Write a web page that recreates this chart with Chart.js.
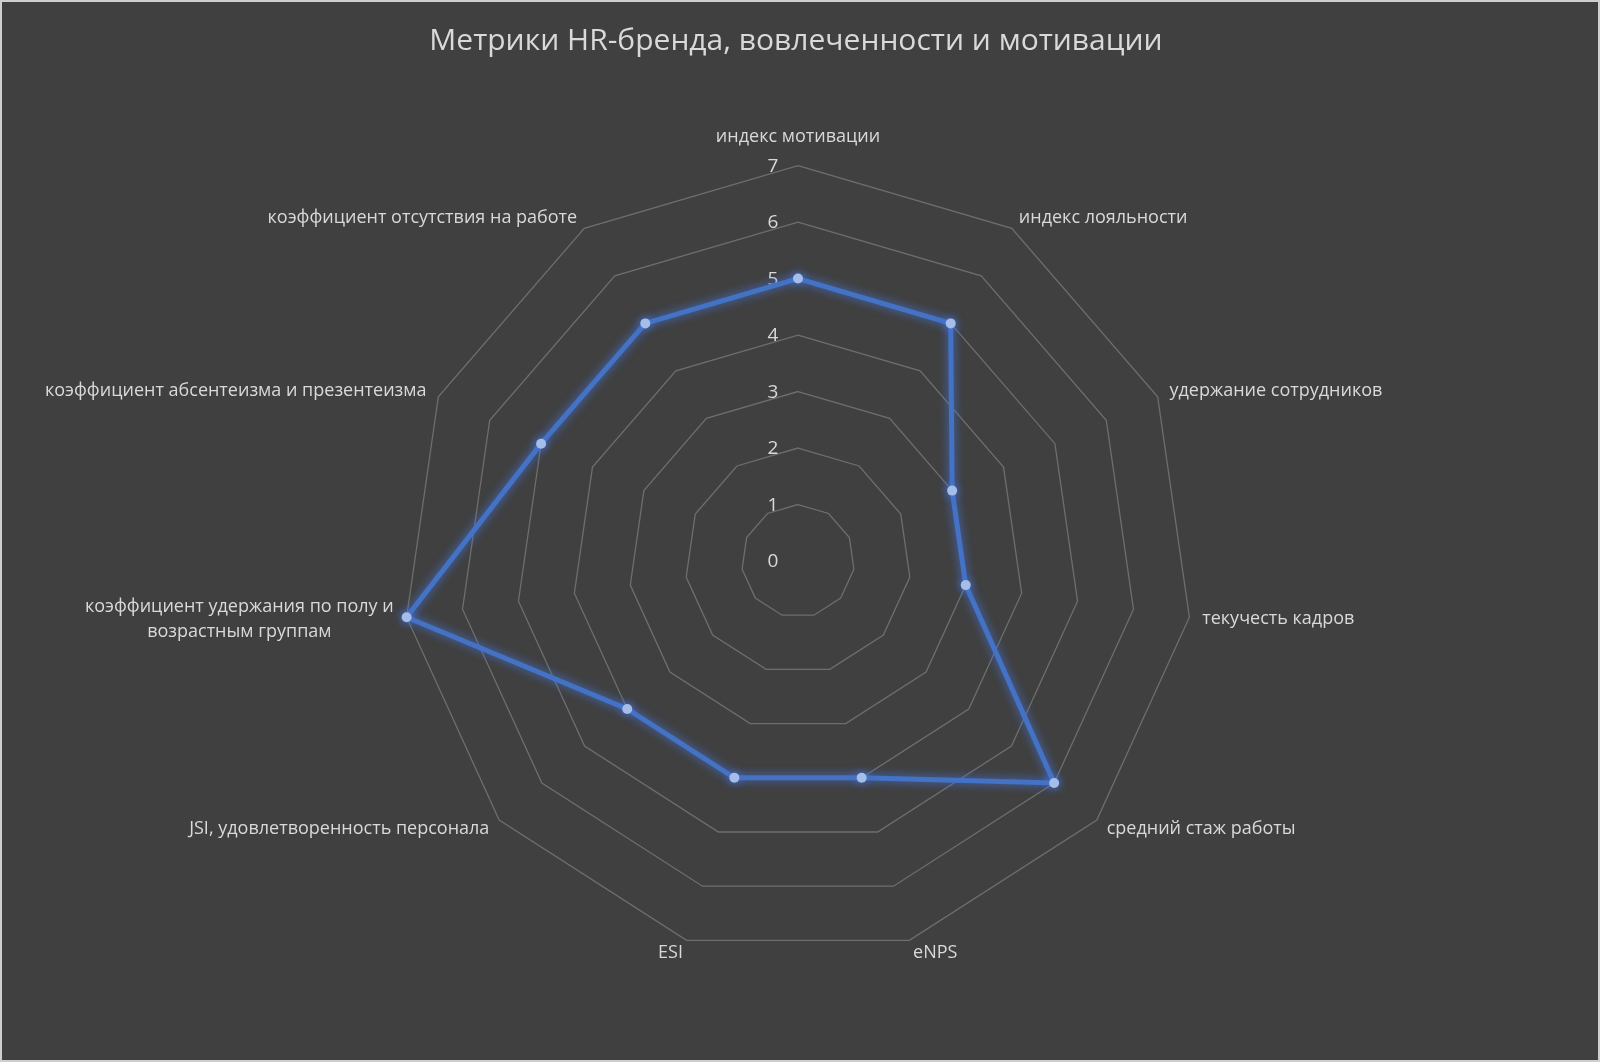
<!DOCTYPE html>
<html>
<head>
<meta charset="utf-8">
<script src="https://cdn.jsdelivr.net/npm/chart.js@4/dist/chart.umd.min.js"></script>
<style>
  html, body { margin: 0; padding: 0; background: #d0d0d0; }
  #wrap {
    width: 1600px; height: 1062px; box-sizing: border-box;
    border: 2px solid #cfcfcf; background: #404040; position: relative;
  }
  canvas { display: block; }
</style>
</head>
<body>
<div id="wrap"><canvas id="chart" width="1596" height="1058"></canvas></div>
<script>
const title = "Метрики HR-бренда, вовлеченности и мотивации";
const categories = [
  "индекс мотивации",
  "индекс лояльности",
  "удержание сотрудников",
  "текучесть кадров",
  "средний стаж работы",
  "eNPS",
  "ESI",
  "JSI, удовлетворенность персонала",
  ["коэффициент удержания по полу и", "возрастным группам"],
  "коэффициент абсентеизма и презентеизма",
  "коэффициент отсутствия на работе"
];
const values = [5, 5, 3, 3, 6, 4, 4, 4, 7, 5, 5];
const tickValues = [0, 1, 2, 3, 4, 5, 6, 7];

const textColor = "#d9d9d9";
const font = "'Open Sans', 'DejaVu Sans', sans-serif";

// tick numbers sit to the left of the vertical axis, like in Excel
const tickLabels = {
  id: "tickLabels",
  beforeDatasetsDraw(chart) {
    const r = chart.scales.r;
    const ctx = chart.ctx;
    ctx.save();
    ctx.fillStyle = textColor;
    ctx.font = "19px " + font;
    ctx.textAlign = "center";
    ctx.textBaseline = "middle";
    tickValues.forEach(v => {
      const d = r.getDistanceFromCenterForValue(v);
      ctx.fillText(String(v), r.xCenter - 25, r.yCenter - d + 1);
    });
    ctx.restore();
  }
};

// category labels: vertically centred on their spoke, multi-line text centred
const catLabels = {
  id: "catLabels",
  afterDraw(chart) {
    const r = chart.scales.r;
    const ctx = chart.ctx;
    const lineH = 25;
    ctx.save();
    ctx.fillStyle = textColor;
    ctx.font = "18px " + font;
    ctx.textBaseline = "middle";
    ctx.textAlign = "center";
    categories.forEach((lab, i) => {
      const lines = Array.isArray(lab) ? lab : [lab];
      const pos = r.getPointPosition(i, r.drawingArea + 13);
      const deg = r.getIndexAngle(i) * 180 / Math.PI;
      const bw = Math.max(...lines.map(l => ctx.measureText(l).width));
      let cx = pos.x;
      if (deg > 1 && deg < 179) cx = pos.x + bw / 2;
      else if (deg > 181 && deg < 359) cx = pos.x - bw / 2;
      const total = lines.length * lineH;
      let cy = pos.y;
      if (deg < 1) cy -= total / 2 + 3;
      lines.forEach((l, k) => {
        ctx.fillText(l, cx, cy - total / 2 + lineH * (k + 0.5));
      });
    });
    ctx.restore();
  }
};

// soft glow under the line
const glow = {
  id: "glow",
  beforeDatasetDraw(chart) {
    const ctx = chart.ctx;
    ctx.save();
    ctx.shadowColor = "rgba(70,120,230,0.9)";
    ctx.shadowBlur = 10;
  },
  afterDatasetDraw(chart) {
    chart.ctx.restore();
  }
};

new Chart(document.getElementById("chart"), {
  type: "radar",
  data: {
    labels: categories,
    datasets: [{
      data: values,
      borderColor: "#4472c4",
      borderWidth: 5,
      backgroundColor: "rgba(0,0,0,0)",
      fill: false,
      pointRadius: 5,
      pointBorderWidth: 0,
      pointBackgroundColor: "#a4bde9",
      tension: 0
    }]
  },
  options: {
    responsive: false,
    animation: false,
    layout: { padding: { top: 0, bottom: 76, left: 12, right: 20 } },
    plugins: {
      legend: { display: false },
      tooltip: { enabled: false },
      title: {
        display: true,
        text: title,
        color: textColor,
        font: { family: font, size: 30, weight: "normal" },
        padding: { top: 21, bottom: 63 }
      }
    },
    scales: {
      r: {
        min: 0,
        max: 7,
        ticks: { display: false, stepSize: 1 },
        grid: { color: "#6e6e6e", lineWidth: 1.3 },
        angleLines: { display: false },
        pointLabels: {
          // kept for the layout fit only, drawn by catLabels
          color: "rgba(0,0,0,0)",
          font: { family: font, size: 18 },
          padding: 14
        }
      }
    }
  },
  plugins: [tickLabels, glow, catLabels]
});
</script>
</body>
</html>
